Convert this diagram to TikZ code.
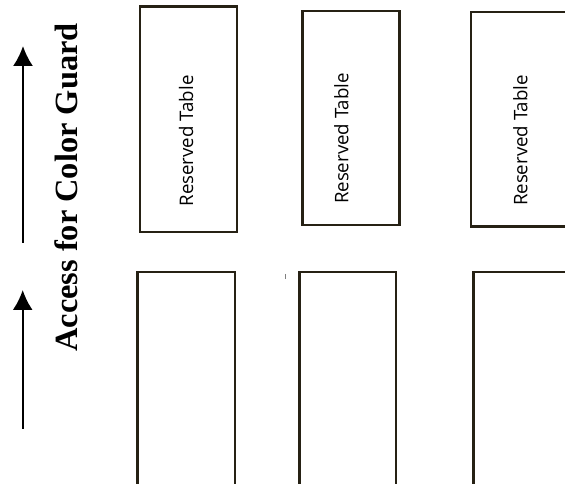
\documentclass[tikz,border=0pt]{standalone}
\usepackage{fontspec}
\setmainfont{Liberation Serif}
\newfontfamily\tablefont{Open Sans}
\usepackage{xcolor}
\definecolor{tableline}{HTML}{262114}
\usepackage{tikz}
\usetikzlibrary{arrows.meta}
\def\px{0.75pt}
\def\tablew{97}
\tikzset{
  >=latex,
  tablebox/.style={draw=tableline,line width=1.8pt,minimum width=\tablew*\px,inner sep=0,outer sep=0},
  tablelabel/.style={rotate=90,anchor=base,inner sep=0,font=\tablefont\fontsize{14}{16}\selectfont},
  access arrow/.style={-{Latex[length=15pt,width=15pt]},line width=1.5pt,black}
}
\begin{document}
\begin{tikzpicture}[x=0.75pt,y=-0.75pt]
	\useasboundingbox (0,0) rectangle (565,484);
	\clip (0,0) rectangle (565,484);

	% reserved row
	\foreach \n/\x/\y/\h in {1/188.5/119.25/225.5, 2/350.85/118/214, 3/519.5/119.35/214.7}
	\node[tablebox, minimum height=\h*\px] (top\n) at (\x,\y) {};

	\foreach \n/\x/\y in {1/193/141, 2/348.3/138.5, 3/527.3/140.5}
	\node[tablelabel] (label\n) at (\x,\y) {Reserved Table};

	% open row
	\foreach \n/\x/\w in {1/186/97.4, 2/347.65/96.7, 3/521.8/97}
	\node[tablebox, minimum width=\w*\px, minimum height=228*\px] (bottom\n) at (\x,386.2) {};

	\draw[gray, line width=0.6pt] (285.7,274) -- (285.7,279);

	% access
	\coordinate (upper tail) at (23,243);
	\coordinate (upper tip) at (23,46);
	\coordinate (lower tail) at (22.7,429);
	\coordinate (lower tip) at (22.7,290);
	\draw[access arrow] (upper tail) -- (upper tip);
	\draw[access arrow] (lower tail) -- (lower tip);

	\node[rotate=90, anchor=base west, inner sep=0, font=\bfseries\fontsize{24.3}{28}\selectfont] (access) at (77.5,352) {Access for Color Guard};
\end{tikzpicture}
\end{document}
